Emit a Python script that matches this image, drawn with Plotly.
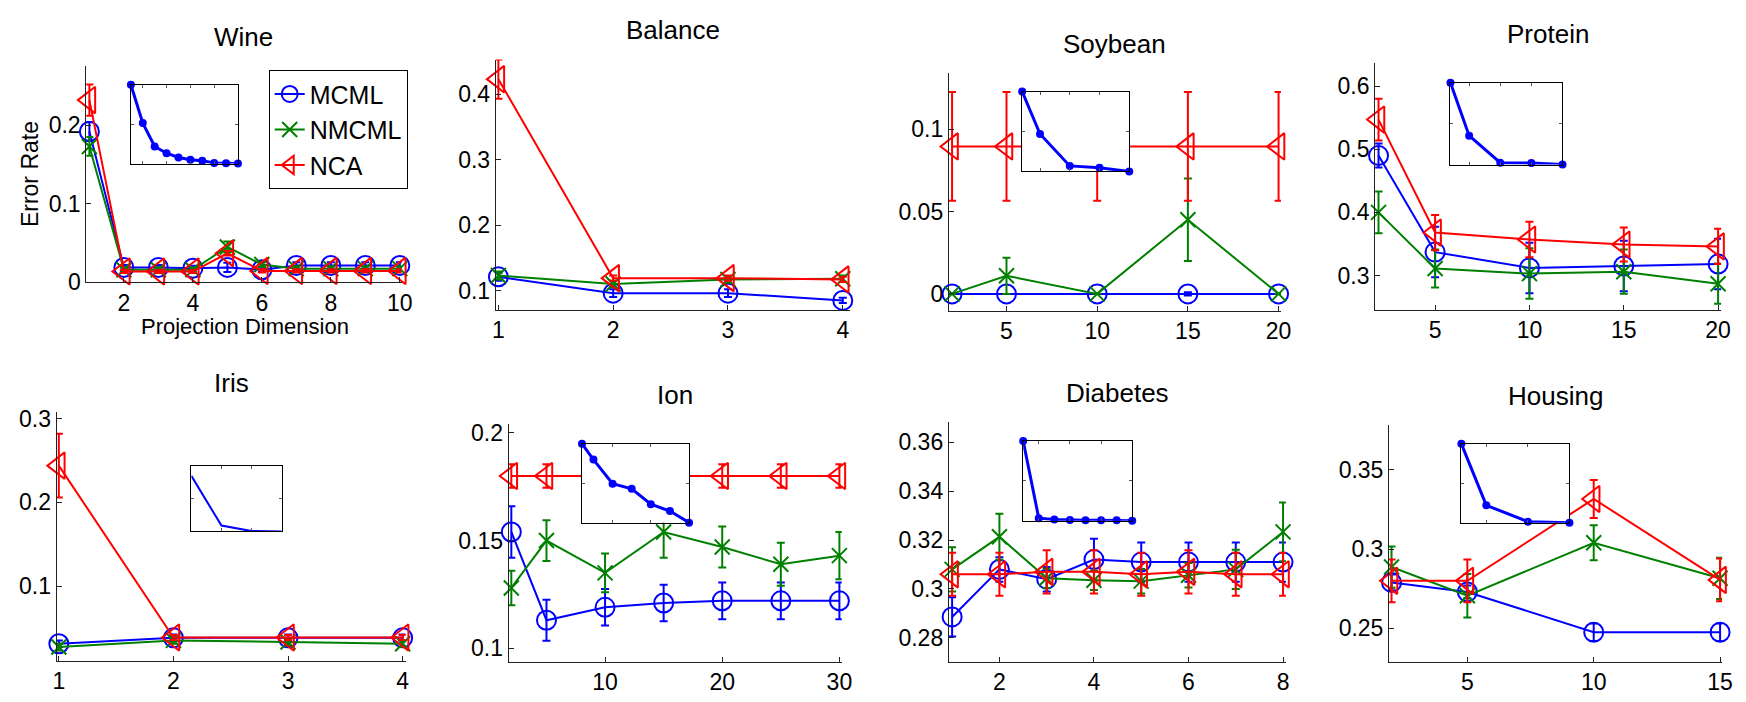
import plotly.graph_objects as go

W, H = 1746, 702
FONT = "Liberation Sans, Arial, Helvetica, sans-serif"

BLUE, GREEN, RED = "#0000ff", "#008000", "#ff0000"
METHODS = ["MCML", "NMCML", "NCA"]

# ---------------- data ----------------
# Wine
wine_dims = [1, 2, 3, 4, 5, 6, 7, 8, 9, 10]
wine_mcml = [0.192, 0.019, 0.019, 0.018, 0.019, 0.016, 0.0215, 0.0215, 0.0215, 0.0215]
wine_mcml_err = [0.012, 0.003, 0.003, 0.003, 0.006, 0.003, 0.004, 0.004, 0.004, 0.004]
wine_nmcml = [0.173, 0.016, 0.016, 0.016, 0.045, 0.0227, 0.0174, 0.0174, 0.0174, 0.0174]
wine_nmcml_err = [0.012, 0.003, 0.003, 0.003, 0.007, 0.003, 0.003, 0.003, 0.003, 0.003]
wine_nca = [0.232, 0.0137, 0.0137, 0.0137, 0.037, 0.0145, 0.0145, 0.0145, 0.0145, 0.0145]
wine_nca_err = [0.020, 0.002, 0.002, 0.002, 0.003, 0.002, 0.002, 0.002, 0.002, 0.002]
wine_obj = [1.0, 0.514, 0.218, 0.132, 0.078, 0.049, 0.037, 0.008, 0.004, 0.0]

# Balance
balance_dims = [1, 2, 3, 4]
balance_mcml = [0.121, 0.096, 0.096, 0.085]
balance_mcml_err = [0.006, 0.006, 0.006, 0.004]
balance_nmcml = [0.123, 0.110, 0.117, 0.118]
balance_nmcml_err = [0.006, 0.005, 0.005, 0.005]
balance_nca = [0.423, 0.119, 0.119, 0.117]
balance_nca_err = [0.030, 0.004, 0.004, 0.004]

# Soybean
soybean_dims = [2, 5, 10, 15, 20]
soybean_mcml = [0.0, 0.0, 0.0, 0.0, 0.0]
soybean_mcml_err = [0.0, 0.0, 0.0, 0.001, 0.0]
soybean_nmcml = [0.0, 0.011, 0.0, 0.045, 0.0]
soybean_nmcml_err = [0.0, 0.011, 0.0, 0.025, 0.0]
soybean_nca = [0.0895, 0.0895, 0.0895, 0.0895, 0.0895]
soybean_nca_err = [0.033, 0.033, 0.033, 0.033, 0.033]
soybean_obj = [1.0, 0.469, 0.069, 0.045, 0.0]

# Protein
protein_dims = [2, 5, 10, 15, 20]
protein_mcml = [0.490, 0.337, 0.312, 0.315, 0.318]
protein_mcml_err = [0.019, 0.040, 0.040, 0.040, 0.040]
protein_nmcml = [0.400, 0.311, 0.303, 0.306, 0.287]
protein_nmcml_err = [0.033, 0.030, 0.040, 0.035, 0.032]
protein_nca = [0.547, 0.368, 0.357, 0.349, 0.346]
protein_nca_err = [0.033, 0.028, 0.028, 0.027, 0.028]
protein_obj = [1.0, 0.354, 0.024, 0.020, 0.0]

# Iris
iris_dims = [1, 2, 3, 4]
iris_mcml = [0.031, 0.038, 0.038, 0.038]
iris_mcml_err = [0.004, 0.004, 0.004, 0.004]
iris_nmcml = [0.027, 0.035, 0.033, 0.031]
iris_nmcml_err = [0.004, 0.004, 0.004, 0.004]
iris_nca = [0.244, 0.0385, 0.0385, 0.0385]
iris_nca_err = [0.038, 0.003, 0.003, 0.003]
iris_obj = [0.852, 0.089, 0.005, 0.0]

# Ion
ion_dims = [2, 5, 10, 15, 20, 25, 30]
ion_mcml = [0.154, 0.113, 0.119, 0.121, 0.122, 0.122, 0.122]
ion_mcml_err = [0.012, 0.0095, 0.0085, 0.0085, 0.0085, 0.0085, 0.0085]
ion_nmcml = [0.128, 0.150, 0.135, 0.154, 0.147, 0.139, 0.143]
ion_nmcml_err = [0.008, 0.0095, 0.009, 0.012, 0.0095, 0.010, 0.011]
ion_nca = [0.180, 0.180, 0.180, 0.180, 0.180, 0.180, 0.180]
ion_nca_err = [0.0055, 0.0055, 0.0055, 0.0055, 0.0055, 0.0055, 0.0055]
ion_obj = [1.0, 0.80, 0.494, 0.429, 0.233, 0.147, 0.0]

# Diabetes
diabetes_dims = [1, 2, 3, 4, 5, 6, 7, 8]
diabetes_mcml = [0.2886, 0.308, 0.304, 0.312, 0.311, 0.311, 0.311, 0.311]
diabetes_mcml_err = [0.008, 0.005, 0.005, 0.0085, 0.008, 0.008, 0.008, 0.008]
diabetes_nmcml = [0.308, 0.3213, 0.3044, 0.3036, 0.3032, 0.3056, 0.308, 0.3233]
diabetes_nmcml_err = [0.009, 0.0094, 0.004, 0.004, 0.005, 0.005, 0.008, 0.012]
diabetes_nca = [0.306, 0.306, 0.307, 0.307, 0.306, 0.307, 0.306, 0.306]
diabetes_nca_err = [0.0088, 0.0088, 0.0088, 0.0088, 0.0088, 0.0088, 0.0088, 0.0088]
diabetes_obj = [1.0, 0.032, 0.016, 0.008, 0.004, 0.004, 0.004, 0.0]

# Housing
housing_dims = [2, 5, 10, 15]
housing_mcml = [0.279, 0.273, 0.2476, 0.2476]
housing_mcml_err = [0.005, 0.004, 0.0055, 0.0055]
housing_nmcml = [0.2887, 0.2706, 0.304, 0.2816]
housing_nmcml_err = [0.013, 0.0137, 0.011, 0.013]
housing_nca = [0.280, 0.280, 0.3316, 0.2806]
housing_nca_err = [0.0135, 0.0135, 0.012, 0.0135]
housing_obj = [1.0, 0.22, 0.012, 0.0]

# tick values
wine_xticks, wine_yticks = [2, 4, 6, 8, 10], [0, 0.1, 0.2]
balance_xticks, balance_yticks = [1, 2, 3, 4], [0.1, 0.2, 0.3, 0.4]
soybean_xticks, soybean_yticks = [5, 10, 15, 20], [0, 0.05, 0.1]
protein_xticks, protein_yticks = [5, 10, 15, 20], [0.3, 0.4, 0.5, 0.6]
iris_xticks, iris_yticks = [1, 2, 3, 4], [0.1, 0.2, 0.3]
ion_xticks, ion_yticks = [10, 20, 30], [0.1, 0.15, 0.2]
diabetes_xticks, diabetes_yticks = [2, 4, 6, 8], [0.28, 0.3, 0.32, 0.34, 0.36]
housing_xticks, housing_yticks = [5, 10, 15], [0.25, 0.3, 0.35]

# ---------------- panel geometry (pixels: left, top, right, bottom) ----------------
panels = [
    dict(title="Wine", dims=wine_dims,
         series=[(wine_mcml, wine_mcml_err), (wine_nmcml, wine_nmcml_err), (wine_nca, wine_nca_err)],
         obj=wine_obj, obj_dots=True,
         box=(83, 62, 401, 284), xr=[0.91, 10.05], yr=[0, 0.275],
         xt=wine_xticks, yt=wine_yticks, inset=(128, 81, 236, 162)),
    dict(title="Balance", dims=balance_dims,
         series=[(balance_mcml, balance_mcml_err), (balance_nmcml, balance_nmcml_err), (balance_nca, balance_nca_err)],
         obj=None,
         box=(496, 55, 853, 312), xr=[0.977, 4.06], yr=[0.071, 0.453],
         xt=balance_xticks, yt=balance_yticks, inset=None),
    dict(title="Soybean", dims=soybean_dims,
         series=[(soybean_mcml, soybean_mcml_err), (soybean_nmcml, soybean_nmcml_err), (soybean_nca, soybean_nca_err)],
         obj=soybean_obj, obj_dots=True,
         box=(953, 69, 1288, 313), xr=[1.82, 20.13], yr=[-0.0101, 0.134],
         xt=soybean_xticks, yt=soybean_yticks, inset=(1027, 88, 1135, 170)),
    dict(title="Protein", dims=protein_dims,
         series=[(protein_mcml, protein_mcml_err), (protein_nmcml, protein_nmcml_err), (protein_nca, protein_nca_err)],
         obj=protein_obj, obj_dots=True,
         box=(1383, 59, 1732, 312), xr=[1.82, 20.16], yr=[0.246, 0.636],
         xt=protein_xticks, yt=protein_yticks, inset=(1459, 79, 1572, 163)),
    dict(title="Iris", dims=iris_dims,
         series=[(iris_mcml, iris_mcml_err), (iris_nmcml, iris_nmcml_err), (iris_nca, iris_nca_err)],
         obj=iris_obj, obj_dots=False,
         box=(53, 417, 405, 673), xr=[0.98, 4.025], yr=[0.0106, 0.3085],
         xt=iris_xticks, yt=iris_yticks, inset=(189, 473, 280, 540)),
    dict(title="Ion", dims=ion_dims,
         series=[(ion_mcml, ion_mcml_err), (ion_nmcml, ion_nmcml_err), (ion_nca, ion_nca_err)],
         obj=ion_obj, obj_dots=True,
         box=(509, 430, 845, 674), xr=[1.77, 30.2], yr=[0.0937, 0.204],
         xt=ion_xticks, yt=ion_yticks, inset=(583, 450, 691, 531)),
    dict(title="Diabetes", dims=diabetes_dims,
         series=[(diabetes_mcml, diabetes_mcml_err), (diabetes_nmcml, diabetes_nmcml_err), (diabetes_nca, diabetes_nca_err)],
         obj=diabetes_obj, obj_dots=True,
         box=(953, 428, 1293, 674), xr=[0.93, 8.06], yr=[0.2703, 0.368],
         xt=diabetes_xticks, yt=diabetes_yticks, inset=(1028, 447, 1138, 529)),
    dict(title="Housing", dims=housing_dims,
         series=[(housing_mcml, housing_mcml_err), (housing_nmcml, housing_nmcml_err), (housing_nca, housing_nca_err)],
         obj=housing_obj, obj_dots=True,
         box=(1397, 431, 1733, 674), xr=[1.9, 15.08], yr=[0.229, 0.378],
         xt=housing_xticks, yt=housing_yticks, inset=(1470, 450, 1579, 531)),
]

styles = [
    dict(color=BLUE, symbol="circle-open", size=19),
    dict(color=GREEN, symbol="x-thin-open", size=15),
    dict(color=RED, symbol="triangle-left-open", size=23),
]


def xdom(l, r):
    return [l / W, r / W]


def ydom(t, b):
    return [1 - b / H, 1 - t / H]


fig = go.Figure()
layout = {}
annotations = []
AX_COLOR = "#222222"
TICK_SIZE = 23

for i, p in enumerate(panels, start=1):
    l, t, r, b = p["box"]
    sfx = "" if i == 1 else str(i)
    layout["xaxis" + sfx] = dict(
        domain=xdom(l, r), range=p["xr"], anchor="y" + sfx,
        showline=True, linecolor=AX_COLOR, linewidth=1, mirror=False,
        ticks="inside", ticklen=5, tickcolor=AX_COLOR,
        tickvals=p["xt"], ticktext=[f"{v:g}" for v in p["xt"]],
        tickfont=dict(size=TICK_SIZE, color="black", family=FONT),
        showgrid=False, zeroline=False, fixedrange=True,
    )
    layout["yaxis" + sfx] = dict(
        domain=ydom(t, b), range=p["yr"], anchor="x" + sfx,
        showline=True, linecolor=AX_COLOR, linewidth=1, mirror=False,
        ticks="inside", ticklen=5, tickcolor=AX_COLOR,
        tickvals=p["yt"], ticktext=[f"{v:g}" for v in p["yt"]],
        tickfont=dict(size=TICK_SIZE, color="black", family=FONT),
        showgrid=False, zeroline=False, fixedrange=True,
    )
    for name, (vals, err), st in zip(METHODS, p["series"], styles):
        fig.add_trace(go.Scatter(
            x=p["dims"], y=vals, name=name, legendgroup=name,
            showlegend=(i == 1), mode="lines+markers",
            line=dict(color=st["color"], width=2),
            marker=dict(symbol=st["symbol"], size=st["size"], color=st["color"],
                        line=dict(width=2, color=st["color"])),
            error_y=dict(type="data", array=err, visible=True, color=st["color"],
                         thickness=2, width=4),
            xaxis="x" + sfx, yaxis="y" + sfx, cliponaxis=False,
        ))
    annotations.append(dict(
        text=p["title"], xref="paper", yref="paper",
        x=(l + r) / 2 / W, y=1 - (t - 30) / H, xanchor="center", yanchor="middle",
        showarrow=False, font=dict(size=26, color="black", family=FONT),
    ))

# insets showing the objective curve of MCML
k = len(panels)
for p in panels:
    if p["obj"] is None:
        continue
    k += 1
    l, t, r, b = p["inset"]
    sfx = str(k)
    layout["xaxis" + sfx] = dict(
        domain=xdom(l, r), range=[p["dims"][0], p["dims"][-1]], anchor="y" + sfx,
        showline=True, linecolor="black", linewidth=1, mirror="ticks",
        ticks="inside", ticklen=3, tickcolor="#555555", nticks=5,
        showticklabels=False, showgrid=False, zeroline=False, fixedrange=True,
    )
    layout["yaxis" + sfx] = dict(
        domain=ydom(t, b), range=[0, 1], anchor="x" + sfx,
        showline=True, linecolor="black", linewidth=1, mirror="ticks",
        ticks="inside", ticklen=3, tickcolor="#555555", nticks=5,
        showticklabels=False, showgrid=False, zeroline=False, fixedrange=True,
    )
    fig.add_trace(go.Scatter(
        x=p["dims"], y=p["obj"], showlegend=False,
        mode="lines+markers" if p["obj_dots"] else "lines",
        line=dict(color=BLUE, width=3 if p["obj_dots"] else 2),
        marker=dict(symbol="circle", size=8, color=BLUE),
        xaxis="x" + sfx, yaxis="y" + sfx, cliponaxis=False,
    ))

annotations.append(dict(
    text="Error Rate", xref="paper", yref="paper", x=27 / W, y=1 - 173 / H,
    xanchor="center", yanchor="middle", textangle=-90, showarrow=False,
    font=dict(size=23, color="black", family=FONT),
))
annotations.append(dict(
    text="Projection Dimension", xref="paper", yref="paper", x=243 / W, y=1 - 329 / H,
    xanchor="center", yanchor="middle", showarrow=False,
    font=dict(size=22, color="black", family=FONT),
))

fig.update_layout(
    width=W, height=H, autosize=False,
    margin=dict(l=0, r=0, t=0, b=0),
    paper_bgcolor="white", plot_bgcolor="white",
    font=dict(family=FONT, color="black"),
    annotations=annotations,
    legend=dict(x=267 / W, y=1 - 66 / H, xanchor="left", yanchor="top",
                bgcolor="white", bordercolor="black", borderwidth=1,
                font=dict(size=25, color="black", family=FONT),
                tracegroupgap=0, itemwidth=30),
    **layout,
)

fig.write_html("out.html")
